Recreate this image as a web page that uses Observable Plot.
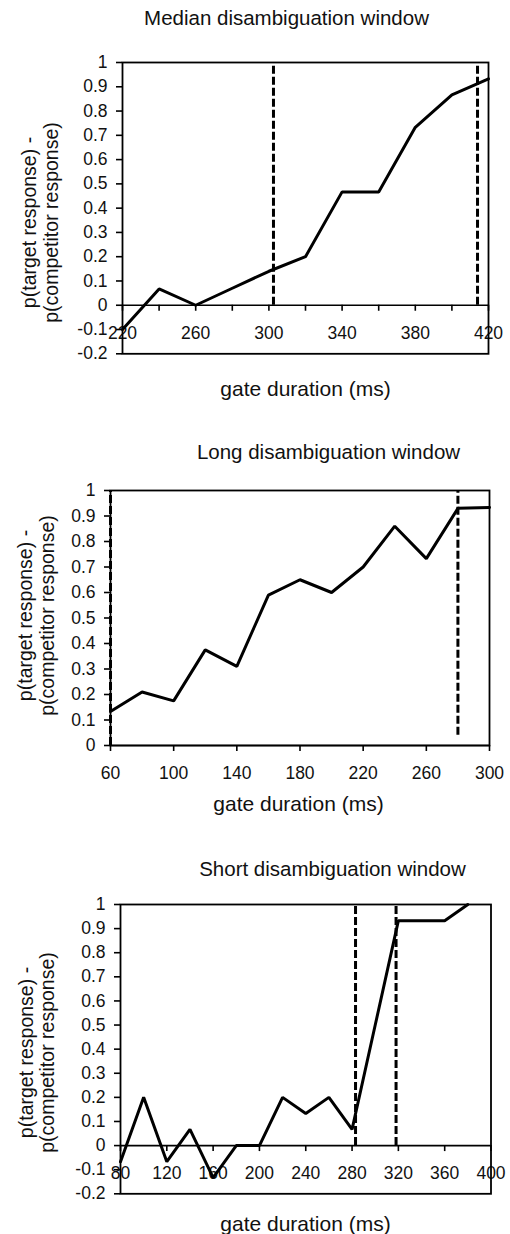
<!DOCTYPE html>
<html><head><meta charset="utf-8">
<script src="https://cdn.jsdelivr.net/npm/d3@7"></script>
<script src="https://cdn.jsdelivr.net/npm/@observablehq/plot@0.6"></script>
<style>
html,body{margin:0;padding:0;background:#fff;}
#chart{position:relative;width:510px;height:1234px;overflow:hidden;background:#fff;}
#chart svg{position:absolute;left:0;}
</style></head><body><div id="chart"></div>
<script>
// ---------- data ----------
const titles = ["Median disambiguation window", "Long disambiguation window", "Short disambiguation window"];
const yLabel = "p(target response) -\np(competitor response)";
const xLabel = "gate duration (ms)";

const medianGate = [220, 240, 260, 280, 300, 320, 340, 360, 380, 400, 420];
const medianDiff = [-0.1, 0.067, 0, 0.07, 0.14, 0.2, 0.467, 0.467, 0.733, 0.867, 0.933];
const medianWindow = [302.5, 414];
const medianWindowBottom = [0, 0];
const medianXTicks = [220, 240, 260, 280, 300, 320, 340, 360, 380, 400, 420];
const medianXLabels = [220, 260, 300, 340, 380, 420];
const medianYTicks = [-0.2, -0.1, 0, 0.1, 0.2, 0.3, 0.4, 0.5, 0.6, 0.7, 0.8, 0.9, 1];

const longGate = [60, 80, 100, 120, 140, 160, 180, 200, 220, 240, 260, 280, 300];
const longDiff = [0.133, 0.21, 0.175, 0.375, 0.31, 0.59, 0.65, 0.6, 0.7, 0.86, 0.733, 0.93, 0.933];
const longWindow = [60, 280];
const longWindowBottom = [0, 0.04];
const longXTicks = [60, 100, 140, 180, 220, 260, 300];
const longXLabels = [60, 100, 140, 180, 220, 260, 300];
const longYTicks = [0, 0.1, 0.2, 0.3, 0.4, 0.5, 0.6, 0.7, 0.8, 0.9, 1];

const shortGate = [80, 100, 120, 140, 160, 180, 200, 220, 240, 260, 280, 300, 320, 340, 360, 380];
const shortDiff = [-0.067, 0.2, -0.067, 0.067, -0.133, 0, 0, 0.2, 0.133, 0.2, 0.067, 0.5, 0.933, 0.933, 0.933, 1];
const shortWindow = [283, 318];
const shortWindowBottom = [0, 0];
const shortXTicks = [80, 120, 160, 200, 240, 280, 320, 360, 400];
const shortXLabels = [80, 120, 160, 200, 240, 280, 320, 360, 400];
const shortYTicks = [-0.2, -0.1, 0, 0.1, 0.2, 0.3, 0.4, 0.5, 0.6, 0.7, 0.8, 0.9, 1];

// ---------- layout ----------
const FONT = '"Liberation Sans", Arial, Helvetica, sans-serif';
const panels = [
  {title: titles[0], gate: medianGate, diff: medianDiff, win: medianWindow, winBottom: medianWindowBottom,
   xTicks: medianXTicks, xLabels: medianXLabels, yTicks: medianYTicks, xDomain: [220, 420], yDomain: [-0.2, 1],
   top: 0, height: 410, mt: 62, mb: 56.7, ml: 122, mr: 22,
   titlePos: [286, 18], xLabPos: [305, 388.5], yLabPos: [39.5, 222]},
  {title: titles[1], gate: longGate, diff: longDiff, win: longWindow, winBottom: longWindowBottom,
   xTicks: longXTicks, xLabels: longXLabels, yTicks: longYTicks, xDomain: [60, 300], yDomain: [0, 1],
   top: 410, height: 410, mt: 80, mb: 75, ml: 110, mr: 21,
   titlePos: [328, 451.5], xLabPos: [298, 804], yLabPos: [35.5, 615]},
  {title: titles[2], gate: shortGate, diff: shortDiff, win: shortWindow, winBottom: shortWindowBottom,
   xTicks: shortXTicks, xLabels: shortXLabels, yTicks: shortYTicks, xDomain: [80, 400], yDomain: [-0.2, 1],
   top: 820, height: 414, mt: 84, mb: 40.7, ml: 120, mr: 19.5,
   titlePos: [332, 869], xLabPos: [305, 1224], yLabPos: [36, 1052]}
];

const fmtY = d => String(Math.round(d * 10) / 10);

const chart = document.getElementById("chart");
for (const p of panels) {
  const plotH = p.height - p.mt - p.mb;
  const yScale = d3.scaleLinear(p.yDomain, [p.mt + plotH, p.mt]);
  const axisDy = yScale(0) - (p.height - p.mb);
  const data = p.gate.map((g, i) => ({gate: g, diff: p.diff[i]}));
  const wins = p.win.map((w, i) => ({x: w, y1: p.winBottom[i], y2: p.yDomain[1]}));
  const at = (pos, extra) => ({frameAnchor: "top-left", dx: pos[0] - p.ml, dy: pos[1] - p.top - p.mt, textAnchor: "middle", lineAnchor: "middle", fill: "#111", text: d => d, ...extra});
  const svg = Plot.plot({
    width: 510, height: p.height,
    marginTop: p.mt, marginBottom: p.mb, marginLeft: p.ml, marginRight: p.mr,
    x: {domain: p.xDomain},
    y: {domain: p.yDomain},
    style: {fontFamily: FONT, color: "#000", background: "transparent", overflow: "visible"},
    marks: [
      Plot.ruleY([0], {stroke: "#000", strokeWidth: 1.6}),
      Plot.axisY({ticks: p.yTicks, tickSize: 6, tickPadding: 9, tickFormat: fmtY, fontSize: 17.5, label: null, strokeWidth: 1.6, fill: "#111"}),
      Plot.axisX({ticks: p.xTicks, tickSize: 6, tickPadding: 15, tickFormat: d => p.xLabels.includes(d) ? String(d) : "", fontSize: 17.5, label: null, strokeWidth: 1.6, dy: axisDy, fill: "#111"}),
      Plot.ruleX(wins, {x: "x", y1: "y1", y2: "y2", stroke: "#000", strokeWidth: 3, strokeDasharray: "8,3"}),
      Plot.line(data, {x: "gate", y: "diff", stroke: "#000", strokeWidth: 3, strokeLinejoin: "miter"}),
      Plot.frame({stroke: "#000", strokeWidth: 1.8}),
      Plot.text([p.title], at(p.titlePos, {fontSize: 20.5})),
      Plot.text([xLabel], at(p.xLabPos, {fontSize: 21})),
      Plot.text([yLabel], at(p.yLabPos, {fontSize: 19.5, rotate: -90, lineHeight: 1.1}))
    ]
  });
  svg.style.top = p.top + "px";
  chart.appendChild(svg);
}
</script>
</body></html>
